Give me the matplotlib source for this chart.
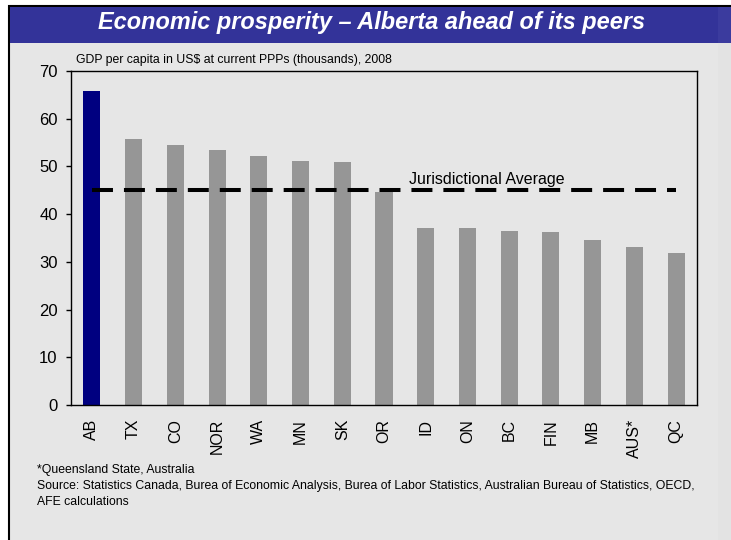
import matplotlib
matplotlib.use("Agg")
import matplotlib.pyplot as plt
from matplotlib.patches import Rectangle

plt.rcParams["font.family"] = ["Liberation Sans", "DejaVu Sans"]
plt.rcParams["lines.scale_dashes"] = False

# data
regions = ["AB", "TX", "CO", "NOR", "WA", "MN", "SK", "OR", "ID", "ON", "BC", "FIN", "MB", "AUS*", "QC"]
gdp_per_capita = [65.8, 55.8, 54.5, 53.5, 52.2, 51.2, 51.0, 44.7, 37.2, 37.2, 36.4, 36.2, 34.5, 33.2, 31.8]
jurisdictional_avg = 45.1
y_ticks = [0, 10, 20, 30, 40, 50, 60, 70]

COLOR_BG = "#e6e6e6"
COLOR_TITLE_BAR = "#333399"
COLOR_AB = "#000080"
COLOR_OTHER = "#969696"

W, H = 731, 540
fig = plt.figure(figsize=(W / 100, H / 100), dpi=100, facecolor="white")


def px_rect(x0, y0, x1, y1, **kw):
    # rectangle in pixel coords measured from the top-left corner
    fig.patches.append(Rectangle((x0 / W, 1 - y1 / H), (x1 - x0) / W, (y1 - y0) / H,
                                 transform=fig.transFigure, figure=fig, zorder=-5, **kw))


# slide frame, title bar and right strip
px_rect(9, 5.5, W + 2, H + 2, facecolor=COLOR_BG, edgecolor="black", linewidth=1.5)
px_rect(718, 43, W, H, facecolor="#e3e3e3", edgecolor="none")
px_rect(10, 6.5, 718, 43, facecolor=COLOR_TITLE_BAR, edgecolor="none")
px_rect(718, 6.5, W, 43, facecolor="#3b3b9e", edgecolor="none")

fig.text(372 / W, 1 - 23 / H, "Economic prosperity \u2013 Alberta ahead of its peers",
         color="white", fontsize=16.9, fontweight="bold", fontstyle="italic",
         ha="center", va="center")

ax = fig.add_axes([71 / W, 1 - 405 / H, (697 - 71) / W, (405 - 71) / H])
ax.set_facecolor("none")

x = list(range(len(regions)))
colors = [COLOR_AB if r == "AB" else COLOR_OTHER for r in regions]
ax.bar(x, gdp_per_capita, width=0.41, color=colors, zorder=2)

avg_line, = ax.plot([0, len(regions) - 1], [jurisdictional_avg, jurisdictional_avg],
                    color="black", linewidth=2.9, zorder=3, solid_capstyle="butt")
avg_line.set_dashes([15.1, 7.9])
avg_line.set_dash_capstyle("butt")
ax.text(7.6, jurisdictional_avg + 0.6, "Jurisdictional Average", fontsize=11.5,
        ha="left", va="bottom", color="black", zorder=4)

ax.set_xlim(-0.5, len(regions) - 0.5)
ax.set_ylim(0, 70)
ax.set_yticks(y_ticks)
ax.set_xticks(x)
ax.set_xticklabels(regions, rotation=90, fontsize=11.5, va="top")
ax.tick_params(axis="x", length=0, pad=10)
ax.tick_params(axis="y", direction="out", length=3.6, width=1, labelsize=12, pad=6)

for spine in ax.spines.values():
    spine.set_color("black")
    spine.set_linewidth(1)

fig.text(76 / W, 1 - 60 / H, "GDP per capita in US$ at current PPPs (thousands), 2008",
         fontsize=8.8, ha="left", va="center")

fig.text(37 / W, 1 - 470 / H, "*Queensland State, Australia", fontsize=8.8, ha="left", va="center")
fig.text(37 / W, 1 - 486 / H,
         "Source: Statistics Canada, Burea of Economic Analysis, Burea of Labor Statistics, "
         "Australian Bureau of Statistics, OECD,", fontsize=8.8, ha="left", va="center")
fig.text(37 / W, 1 - 502 / H, "AFE calculations", fontsize=8.8, ha="left", va="center")

fig.savefig("out.png", dpi=100, facecolor="white")
plt.close(fig)
